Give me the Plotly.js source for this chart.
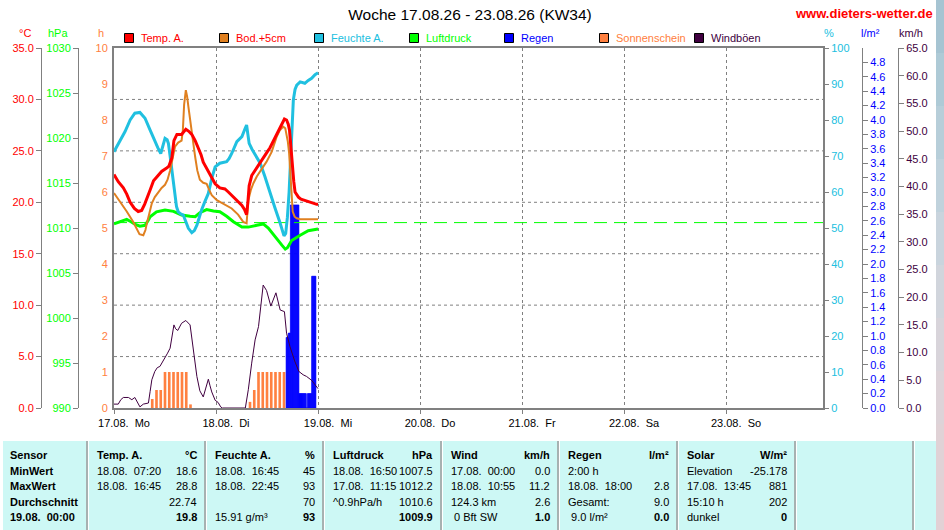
<!DOCTYPE html>
<html><head><meta charset="utf-8">
<script src="https://cdn.plot.ly/plotly-3.0.1.min.js"></script>
<style>html,body{margin:0;padding:0;background:#fff}#chart{width:944px;height:530px}</style>
</head><body><div id="chart"></div>
<script>
// ---------- DATA ----------
const chartTitle = 'Woche 17.08.26 - 23.08.26 (KW34)';
const siteName = 'www.dieters-wetter.de';
const dayTicks = ['2026-08-17','2026-08-18','2026-08-19','2026-08-20','2026-08-21','2026-08-22','2026-08-23'];
const dayLabels = ['17.08.\u00a0 Mo','18.08.\u00a0 Di','19.08.\u00a0 Mi','20.08.\u00a0 Do','21.08.\u00a0 Fr','22.08.\u00a0 Sa','23.08.\u00a0 So'];
const rangeEndHours = 166.82;

// hours after 17.08. 00:00
const tempHours = [0,1,2.2,3,3.8,4.8,5.7,6.5,7.2,8,8.5,9.3,10.3,11.2,12.3,12.9,13.6,14.1,14.8,15.9,16.9,17.6,18.3,19.1,19.8,20.5,21,21.8,22.6,23.2,23.8,24.9,26.1,26.9,27.7,28.9,30.1,30.7,31.2,31.5,31.8,32.4,33.6,34.4,35.1,35.9,36.7,37.3,37.9,38.5,39.1,39.7,40.1,40.6,41,41.3,41.8,42.3,42.6,43.4,44,46,47.7,48];
const tempValues = [22.7,22.0,21.4,20.8,20.0,19.4,19.1,19.2,19.8,20.6,21.2,22.1,22.6,23.0,23.3,23.5,24.3,26.0,26.6,26.6,27.1,26.9,26.6,26.0,25.3,24.6,23.9,23.3,22.8,22.3,21.8,21.4,21.3,21.0,20.7,20.2,19.7,19.3,18.8,20.0,21.6,22.6,23.4,23.8,24.3,24.8,25.3,25.8,26.4,26.9,27.4,27.8,28.1,28.0,27.6,27.0,24.1,22.0,21.0,20.5,20.3,20.0,19.8,19.8];

const soilHours = [0,1.4,3,4.5,5.5,6,6.9,7.4,7.7,8.3,8.9,9.6,10.4,11.2,12,12.6,13.2,13.8,14.35,15.1,15.9,16.2,16.5,16.9,17.2,17.5,17.9,18.3,18.7,19.1,19.6,20.2,21,21.8,22.4,23,24.2,26.1,27.7,29.2,30.4,31.2,31.6,32.2,32.8,33.6,34.4,35.9,37.1,37.7,38.3,39,39.8,40.3,40.6,40.9,41.2,41.5,41.8,42.05,42.5,43,43.8,48];
const soilValues = [20.9,20.1,19.1,18.1,17.3,16.9,16.8,17.3,17.9,19.0,19.9,20.5,21.0,21.4,21.7,22.2,23.1,24.3,25.4,25.8,26.0,27.0,29.5,30.9,30.3,29.3,28.0,27.0,25.6,24.4,23.1,22.2,21.9,21.8,21.2,20.7,20.2,19.8,19.4,18.8,18.1,17.95,20.2,21.2,21.85,22.5,23.0,23.95,24.9,25.7,26.4,27.0,27.35,27.2,26.7,25.9,24.8,23.0,21.2,19.1,18.6,18.44,18.35,18.35];

const humHours = [0,0.7,1.4,2.6,3.8,4.9,6.1,7.3,8.5,9.6,10.3,11,11.5,12,12.5,12.8,13.2,13.6,14,14.35,14.7,15.1,15.7,16.3,16.9,17.5,18.3,18.9,19.5,20,20.6,21.4,22.2,23,23.8,24.9,26.5,27.1,27.7,28.9,30.1,30.8,31.2,31.5,31.8,32.5,33.2,34.4,35.5,36.7,37.9,39.1,40,40.4,40.8,41.2,41.5,41.8,42.2,42.6,43,43.8,44.9,45.7,46.5,47.3,48];
const humValues = [71.2,72.8,74,76.8,80,81.9,82.1,80.5,77.2,74,72.3,70.7,72.5,74.9,74.5,73.5,70,66.1,62,58.7,56,54.5,53.9,53.6,52,49.9,48.7,49.3,50.8,52.8,55,57.4,59.6,63.8,67,68,68.4,69.3,70.7,74,75.4,77.5,78.6,76,73.5,71.8,70.3,68,64.3,59.6,55.5,51.3,47.8,48.5,53,60,68,77.2,85.6,88.5,89.7,90.6,90.2,91,91.6,92.6,93.1];

const pressHours = [0,1.4,3,4,5,6.1,7.3,8,8.5,10,12,14,15.9,17.9,19.1,20.2,21.8,23.4,24.9,26.5,28.1,30.1,31.6,33.6,35.1,36.3,37.9,39.5,40.3,40.8,41.8,43,43.8,45.7,47,48];
const pressValues = [1010.45,1010.7,1010.95,1010.7,1010.4,1010.2,1010.3,1010.8,1011.25,1011.8,1012.0,1011.85,1011.45,1011.3,1011.25,1011.7,1012.05,1011.9,1011.8,1011.3,1010.7,1010.1,1010.1,1010.3,1010.45,1010.0,1009.0,1008.1,1007.65,1007.8,1008.6,1009.0,1009.2,1009.7,1009.85,1009.9];
const pressAverage = 1010.6;

const gustHours = [0,1,1.6,2.2,3.4,4.2,4.9,5.5,6.1,6.9,8.1,8.5,8.9,9.6,10.2,10.8,12,12.6,13.2,13.7,14.1,14.5,15,15.9,16.9,17.9,18.6,19.1,19.5,20.2,21,21.6,22.2,22.6,23,23.8,24.5,25.1,25.5,30.9,31.6,32.4,33.2,34,34.6,35.1,35.9,36.9,38.1,39.1,40.1,40.6,41.4,42.5,43.5,44.5,45.3,46.5,47.2,48];
const gustValues = [0.7,0.7,1.5,1.9,1.9,1.5,1.9,1.1,0.2,0.7,0.9,3.0,5.1,6.6,7.3,7.5,9.0,9.9,10.8,13.2,15.0,14.3,14.0,15.3,15.8,15.0,11.1,8.0,5.7,3.1,2.0,3.6,5.2,4.0,2.9,1.4,1.0,0.2,0,0,3.3,8.1,12.3,14.7,18.3,22.2,21.2,18.4,20.8,17.7,17.4,13.5,11.1,8.5,6.6,6.0,5.7,5.0,4.3,3.5];

const sunHours = [9,10,11,12,13,14,15,16,17,18,32,33,34,35,36,37,38,39,40];
const sunValues = [0.25,0.5,0.5,1,1,1,1,1,1,0.1,0.17,0.5,1,1,1,1,1,1,1];

const rainHours = [40.625,40.875,41.125,41.375,41.625,41.875,42.125,42.375,42.625,42.875,43.125,43.375,43.625,43.875,44.125,44.375,44.625,44.875,45.125,45.375,45.625,45.875,46.125,46.375,46.625,46.875,47.125,47.375];
const rainValues = [0.98,0.98,1.04,1.04,2.82,2.82,2.82,2.82,2.82,2.82,2.82,2.82,0.2,0.2,0.2,0.2,0.2,0.2,0.2,0,0.2,0.2,0.2,0.2,1.83,1.83,1.83,1.83];
const rainTicks = [0,0.2,0.4,0.6,0.8,1.0,1.2,1.4,1.6,1.8,2.0,2.2,2.4,2.6,2.8,3.0,3.2,3.4,3.6,3.8,4.0,4.2,4.4,4.6,4.8];

const seriesNames = ['Temp. A.','Bod.+5cm','Feuchte A.','Luftdruck','Regen','Sonnenschein','Windböen'];
const unitLabels = ['°C','hPa','h','%','l/m²','km/h'];

// table (left text, right text) per row
const colSensor = [['Sensor',''],['MinWert',''],['MaxWert',''],['Durchschnitt',''],['19.08.\u00a0 00:00','']];
const colTemp = [['Temp. A.','°C'],['18.08.\u00a0 07:20','18.6'],['18.08.\u00a0 16:45','28.8'],['','22.74'],['','19.8']];
const colHum = [['Feuchte A.','%'],['18.08.\u00a0 16:45','45'],['18.08.\u00a0 22:45','93'],['','70'],['15.91 g/m³','93']];
const colPress = [['Luftdruck','hPa'],['18.08.\u00a0 16:50','1007.5'],['17.08.\u00a0 11:15','1012.2'],['^0.9hPa/h','1010.6'],['','1009.9']];
const colWind = [['Wind','km/h'],['17.08.\u00a0 00:00','0.0'],['18.08.\u00a0 10:55','11.2'],['124.3 km','2.6'],['\u00a00 Bft SW','1.0']];
const colRain = [['Regen','l/m²'],['2:00 h',''],['18.08.\u00a0 18:00','2.8'],['Gesamt:','9.0'],['\u00a09.0 l/m²','0.0']];
const colSolar = [['Solar','W/m²'],['Elevation','-25.178'],['17.08.\u00a0 13:45','881'],['15:10 h','202'],['dunkel','0']];

// ---------- STYLE / LAYOUT ----------
const W = 944, H = 530;
const px = x => x / W;
const py = y => 1 - y / H;
const base = Date.UTC(2026, 7, 17);
const toDate = h => new Date(Math.round(base + h * 3600000)).toISOString().slice(0, 19).replace('T', ' ');
const FONT = 'Liberation Sans, Arial, sans-serif';

const C = {temp:'#ff0000', soil:'#e08020', hum:'#20c0e0', press:'#00ff00', rain:'#0000ff', sun:'#ff8040', gust:'#400040', grid:'#808080'};

const traces = [
  {type:'bar', name:'Sonnenschein', x:sunHours.map(toDate), y:sunValues, yaxis:'y2', width:0.62*3600000,
   marker:{color:C.sun, line:{width:0}}, showlegend:false},
  {type:'bar', name:'Regen', x:rainHours.map(toDate), y:rainValues, yaxis:'y3', width:0.25*3600000,
   marker:{color:C.rain, line:{color:C.rain, width:0.7}}, showlegend:false},
  {type:'scatter', mode:'lines', name:'Windböen', x:gustHours.map(toDate), y:gustValues, yaxis:'y4',
   line:{color:C.gust, width:1}, showlegend:false},
  {type:'scatter', mode:'lines', name:'Luftdruck Mittel', x:[toDate(0), toDate(rangeEndHours)], y:[pressAverage, pressAverage], yaxis:'y5',
   line:{color:C.press, width:1, dash:'13px,7px'}, showlegend:false},
  {type:'scatter', mode:'lines', name:'Luftdruck', x:pressHours.map(toDate), y:pressValues, yaxis:'y5',
   line:{color:C.press, width:3}, showlegend:false},
  {type:'scatter', mode:'lines', name:'Feuchte A.', x:humHours.map(toDate), y:humValues, yaxis:'y6',
   line:{color:C.hum, width:3}, showlegend:false},
  {type:'scatter', mode:'lines', name:'Bod.+5cm', x:soilHours.map(toDate), y:soilValues, yaxis:'y7',
   line:{color:C.soil, width:2}, showlegend:false},
  {type:'scatter', mode:'lines', name:'Temp. A.', x:tempHours.map(toDate), y:tempValues, yaxis:'y7',
   line:{color:C.temp, width:3}, showlegend:false}
];

const tickFont = c => ({family:FONT, size:11, color:c});
const yDomain = [py(408), py(48)];
const freeAxis = (side, pos, range, color, extra) => Object.assign({
  overlaying:'y', side:side, anchor:'free', position:pos, range:range, domain:yDomain,
  tickfont:tickFont(color), ticks:'outside', ticklen:5, tickcolor:C.grid, tickwidth:1,
  showline:true, linecolor:C.grid, linewidth:1, showgrid:false, zeroline:false, fixedrange:true
}, extra);

const shapes = [];
const annotations = [];
const ann = (text, x, y, opt) => annotations.push(Object.assign({
  text:text, x:px(x), y:py(y), xref:'paper', yref:'paper', showarrow:false,
  xanchor:'center', yanchor:'middle', font:{family:FONT, size:11, color:'#000'}
}, opt || {}));

// horizontal dashed grid: 7 equal bands of the plot height
for (let i = 1; i < 7; i++) {
  shapes.push({type:'line', xref:'paper', yref:'y', x0:px(114), x1:px(823), y0:i, y1:i,
    line:{color:C.grid, width:1, dash:'3px,3px'}, layer:'below'});
}

// unit labels
const unitPos = [[25,'#ff0000'],[57.5,'#00ff00'],[101,C.sun],[828.5,C.hum],[870,C.rain],[910.5,C.gust]];
unitLabels.forEach((u, i) => ann(u, unitPos[i][0], 33, {font:{family:FONT, size:11, color:unitPos[i][1]}}));

// legend
const legendSquare = [C.temp, C.soil, C.hum, C.press, C.rain, C.sun, C.gust];
const legendText = [C.temp, C.temp, C.hum, C.press, C.rain, C.sun, C.gust];
seriesNames.forEach((n, i) => {
  const x0 = 124.5 + 95 * i;
  shapes.push({type:'rect', xref:'paper', yref:'paper', x0:px(x0), x1:px(x0 + 9), y0:py(42.5), y1:py(33.5),
    fillcolor:legendSquare[i], line:{color:'#000', width:1}});
  ann(n, x0 + 14, 38, {xanchor:'left', font:{family:FONT, size:11, color:legendText[i]}});
});

// site name
ann('<b>' + siteName + '</b>', 863.5, 13.5, {font:{family:FONT, size:13, color:'#ff0000'}});

// table
shapes.push({type:'rect', xref:'paper', yref:'paper', x0:px(3), x1:px(936), y0:py(530), y1:py(441),
  fillcolor:'#cdf8f5', line:{width:0}, layer:'below'});
const colEdges = [3, 87, 205, 323, 441, 558, 677, 795, 913, 936];
colEdges.slice(1, 9).forEach(x => {
  shapes.push({type:'line', xref:'paper', yref:'paper', x0:px(x), x1:px(x), y0:py(530), y1:py(441), line:{color:'#9a9a9a', width:1.5}});
  shapes.push({type:'line', xref:'paper', yref:'paper', x0:px(x + 1.5), x1:px(x + 1.5), y0:py(530), y1:py(441), line:{color:'#ffffff', width:1}});
});
const tableCols = [colSensor, colTemp, colHum, colPress, colWind, colRain, colSolar];
tableCols.forEach((col, ci) => {
  const left = colEdges[ci] + (ci === 0 ? 5 : 8), right = colEdges[ci + 1] - 6;
  col.forEach((cell, ri) => {
    const y = 455 + ri * 15.6;
    const boldL = ri === 0 || ci === 0;
    const boldR = ri === 0 || ri === 4;
    if (cell[0]) ann(boldL ? '<b>' + cell[0] + '</b>' : cell[0], left, y, {xanchor:'left'});
    if (cell[1]) ann(boldR ? '<b>' + cell[1] + '</b>' : cell[1], right, y, {xanchor:'right'});
  });
});

// right decorative strip
const stripCols = ['#a6c4d2','#aecad6','#b7ced9','#c0d2dc','#c9d4dd','#d1d5dc','#d8d4da','#ddd3d8','#e0d2d6','#e2d1d5'];
stripCols.forEach((c, i) => {
  shapes.push({type:'rect', xref:'paper', yref:'paper', x0:px(936), x1:1, y0:py(H * (i + 1) / stripCols.length), y1:py(H * i / stripCols.length),
    fillcolor:c, line:{width:0}});
});

const layout = {
  width:W, height:H, margin:{l:0, r:0, t:0, b:0},
  paper_bgcolor:'#ffffff', plot_bgcolor:'rgba(0,0,0,0)',
  showlegend:false, hovermode:false, barmode:'overlay',
  font:{family:FONT, size:11, color:'#000'},
  title:{text:chartTitle, x:px(470), xanchor:'center', y:py(15), yanchor:'middle', xref:'container', yref:'container',
    font:{family:FONT, size:15.5, color:'#000'}},
  xaxis:{type:'date', domain:[px(114), px(823)], range:[toDate(0), toDate(rangeEndHours)],
    tickvals:dayTicks, ticktext:dayLabels, tickfont:tickFont('#000'), ticks:'outside', ticklen:4, tickcolor:C.grid,
    ticklabelshift:10, showgrid:true, gridcolor:C.grid, griddash:'3px,3px', gridwidth:1,
    showline:true, linecolor:C.grid, linewidth:2, mirror:true, zeroline:false, fixedrange:true},
  yaxis:{domain:yDomain, range:[0,7], dtick:1, tick0:0, showgrid:false,
    showticklabels:false, ticks:'', zeroline:false, showline:true, linecolor:C.grid, linewidth:2, mirror:true, fixedrange:true},
  yaxis2:{overlaying:'y', side:'left', anchor:'x', range:[0,10], dtick:1, tick0:0, domain:yDomain,
    tickfont:tickFont(C.sun), ticks:'outside', ticklen:3, tickcolor:'rgba(0,0,0,0)',
    showline:false, showgrid:false, zeroline:false, fixedrange:true},
  yaxis3:freeAxis('right', px(862), [0,5], C.rain, {tickvals:rainTicks, tickformat:'.1f'}),
  yaxis4:freeAxis('right', px(898), [0,65], C.gust, {dtick:5, tick0:0, tickformat:'.1f'}),
  yaxis5:freeAxis('left', px(78), [990,1030], '#00ff00', {dtick:5, tick0:990}),
  yaxis6:{overlaying:'y', side:'right', anchor:'x', range:[0,100], dtick:10, tick0:0, domain:yDomain,
    tickfont:tickFont(C.hum), ticks:'outside', ticklen:5, tickcolor:C.grid,
    showline:false, showgrid:false, zeroline:false, fixedrange:true},
  yaxis7:freeAxis('left', px(41), [0,35], C.temp, {dtick:5, tick0:0, tickformat:'.1f'}),
  shapes:shapes, annotations:annotations
};

Plotly.newPlot('chart', traces, layout, {staticPlot:true, displayModeBar:false});
</script>
</body></html>
